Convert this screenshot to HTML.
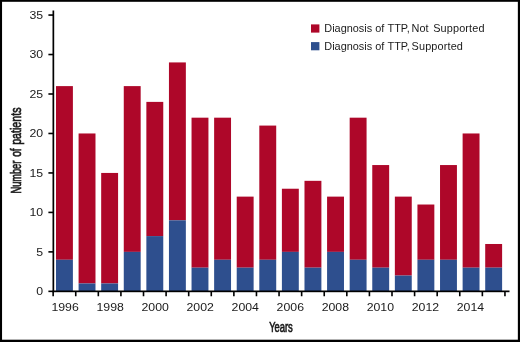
<!DOCTYPE html>
<html><head><meta charset="utf-8"><title>Chart</title>
<style>
html,body{margin:0;padding:0;background:#fff;}
body{width:520px;height:342px;overflow:hidden;}
svg{display:block;}
text{font-family:"Liberation Sans",sans-serif;fill:#1a1a1a;}
.tk{font-size:10.9px;}
.lg{font-size:10.9px;}
.ti{font-size:14.2px;stroke:#1a1a1a;stroke-width:0.7px;}
</style></head><body>
<svg width="520" height="342" viewBox="0 0 520 342">
<rect x="0" y="0" width="520" height="342" fill="#ffffff"/>

<rect x="56.00" y="86.11" width="16.9" height="173.67" fill="#ae0729"/>
<rect x="56.00" y="259.77" width="16.9" height="31.58" fill="#2e4f8e"/>
<rect x="78.59" y="133.47" width="16.9" height="149.99" fill="#ae0729"/>
<rect x="78.59" y="283.46" width="16.9" height="7.89" fill="#2e4f8e"/>
<rect x="101.18" y="172.94" width="16.9" height="110.52" fill="#ae0729"/>
<rect x="101.18" y="283.46" width="16.9" height="7.89" fill="#2e4f8e"/>
<rect x="123.77" y="86.11" width="16.9" height="165.77" fill="#ae0729"/>
<rect x="123.77" y="251.88" width="16.9" height="39.47" fill="#2e4f8e"/>
<rect x="146.36" y="101.89" width="16.9" height="134.20" fill="#ae0729"/>
<rect x="146.36" y="236.09" width="16.9" height="55.26" fill="#2e4f8e"/>
<rect x="168.95" y="62.42" width="16.9" height="157.88" fill="#ae0729"/>
<rect x="168.95" y="220.30" width="16.9" height="71.05" fill="#2e4f8e"/>
<rect x="191.54" y="117.68" width="16.9" height="149.99" fill="#ae0729"/>
<rect x="191.54" y="267.67" width="16.9" height="23.68" fill="#2e4f8e"/>
<rect x="214.13" y="117.68" width="16.9" height="142.09" fill="#ae0729"/>
<rect x="214.13" y="259.77" width="16.9" height="31.58" fill="#2e4f8e"/>
<rect x="236.72" y="196.62" width="16.9" height="71.05" fill="#ae0729"/>
<rect x="236.72" y="267.67" width="16.9" height="23.68" fill="#2e4f8e"/>
<rect x="259.31" y="125.58" width="16.9" height="134.20" fill="#ae0729"/>
<rect x="259.31" y="259.77" width="16.9" height="31.58" fill="#2e4f8e"/>
<rect x="281.90" y="188.73" width="16.9" height="63.15" fill="#ae0729"/>
<rect x="281.90" y="251.88" width="16.9" height="39.47" fill="#2e4f8e"/>
<rect x="304.49" y="180.83" width="16.9" height="86.83" fill="#ae0729"/>
<rect x="304.49" y="267.67" width="16.9" height="23.68" fill="#2e4f8e"/>
<rect x="327.08" y="196.62" width="16.9" height="55.26" fill="#ae0729"/>
<rect x="327.08" y="251.88" width="16.9" height="39.47" fill="#2e4f8e"/>
<rect x="349.67" y="117.68" width="16.9" height="142.09" fill="#ae0729"/>
<rect x="349.67" y="259.77" width="16.9" height="31.58" fill="#2e4f8e"/>
<rect x="372.26" y="165.05" width="16.9" height="102.62" fill="#ae0729"/>
<rect x="372.26" y="267.67" width="16.9" height="23.68" fill="#2e4f8e"/>
<rect x="394.85" y="196.62" width="16.9" height="78.94" fill="#ae0729"/>
<rect x="394.85" y="275.56" width="16.9" height="15.79" fill="#2e4f8e"/>
<rect x="417.44" y="204.52" width="16.9" height="55.26" fill="#ae0729"/>
<rect x="417.44" y="259.77" width="16.9" height="31.58" fill="#2e4f8e"/>
<rect x="440.03" y="165.05" width="16.9" height="94.73" fill="#ae0729"/>
<rect x="440.03" y="259.77" width="16.9" height="31.58" fill="#2e4f8e"/>
<rect x="462.62" y="133.47" width="16.9" height="134.20" fill="#ae0729"/>
<rect x="462.62" y="267.67" width="16.9" height="23.68" fill="#2e4f8e"/>
<rect x="485.21" y="243.99" width="16.9" height="23.68" fill="#ae0729"/>
<rect x="485.21" y="267.67" width="16.9" height="23.68" fill="#2e4f8e"/>
<rect x="52.5" y="10.5" width="1.7" height="281.70" fill="#000"/>
<rect x="52.5" y="290.50" width="457" height="1.7" fill="#000"/>
<rect x="48.4" y="290.55" width="4.7" height="1.6" fill="#000"/>
<text class="tk" transform="translate(43.1,295.25) scale(1.13,1)" text-anchor="end">0</text>
<rect x="48.4" y="251.08" width="4.7" height="1.6" fill="#000"/>
<text class="tk" transform="translate(43.1,255.78) scale(1.13,1)" text-anchor="end">5</text>
<rect x="48.4" y="211.61" width="4.7" height="1.6" fill="#000"/>
<text class="tk" transform="translate(43.1,216.31) scale(1.13,1)" text-anchor="end">10</text>
<rect x="48.4" y="172.14" width="4.7" height="1.6" fill="#000"/>
<text class="tk" transform="translate(43.1,176.84) scale(1.13,1)" text-anchor="end">15</text>
<rect x="48.4" y="132.67" width="4.7" height="1.6" fill="#000"/>
<text class="tk" transform="translate(43.1,137.37) scale(1.13,1)" text-anchor="end">20</text>
<rect x="48.4" y="93.20" width="4.7" height="1.6" fill="#000"/>
<text class="tk" transform="translate(43.1,97.90) scale(1.13,1)" text-anchor="end">25</text>
<rect x="48.4" y="53.73" width="4.7" height="1.6" fill="#000"/>
<text class="tk" transform="translate(43.1,58.43) scale(1.13,1)" text-anchor="end">30</text>
<rect x="48.4" y="14.26" width="4.7" height="1.6" fill="#000"/>
<text class="tk" transform="translate(43.1,18.96) scale(1.13,1)" text-anchor="end">35</text>
<rect x="52.35" y="291.35" width="1.6" height="4.9" fill="#000"/>
<rect x="74.94" y="291.35" width="1.6" height="4.9" fill="#000"/>
<rect x="97.53" y="291.35" width="1.6" height="4.9" fill="#000"/>
<rect x="120.12" y="291.35" width="1.6" height="4.9" fill="#000"/>
<rect x="142.71" y="291.35" width="1.6" height="4.9" fill="#000"/>
<rect x="165.30" y="291.35" width="1.6" height="4.9" fill="#000"/>
<rect x="187.89" y="291.35" width="1.6" height="4.9" fill="#000"/>
<rect x="210.48" y="291.35" width="1.6" height="4.9" fill="#000"/>
<rect x="233.07" y="291.35" width="1.6" height="4.9" fill="#000"/>
<rect x="255.66" y="291.35" width="1.6" height="4.9" fill="#000"/>
<rect x="278.25" y="291.35" width="1.6" height="4.9" fill="#000"/>
<rect x="300.84" y="291.35" width="1.6" height="4.9" fill="#000"/>
<rect x="323.43" y="291.35" width="1.6" height="4.9" fill="#000"/>
<rect x="346.02" y="291.35" width="1.6" height="4.9" fill="#000"/>
<rect x="368.61" y="291.35" width="1.6" height="4.9" fill="#000"/>
<rect x="391.20" y="291.35" width="1.6" height="4.9" fill="#000"/>
<rect x="413.79" y="291.35" width="1.6" height="4.9" fill="#000"/>
<rect x="436.38" y="291.35" width="1.6" height="4.9" fill="#000"/>
<rect x="458.97" y="291.35" width="1.6" height="4.9" fill="#000"/>
<rect x="481.56" y="291.35" width="1.6" height="4.9" fill="#000"/>
<rect x="504.15" y="291.35" width="1.6" height="4.9" fill="#000"/>
<text class="tk" transform="translate(65.10,311.4) scale(1.13,1)" text-anchor="middle">1996</text>
<text class="tk" transform="translate(110.14,311.4) scale(1.13,1)" text-anchor="middle">1998</text>
<text class="tk" transform="translate(155.18,311.4) scale(1.13,1)" text-anchor="middle">2000</text>
<text class="tk" transform="translate(200.22,311.4) scale(1.13,1)" text-anchor="middle">2002</text>
<text class="tk" transform="translate(245.26,311.4) scale(1.13,1)" text-anchor="middle">2004</text>
<text class="tk" transform="translate(290.30,311.4) scale(1.13,1)" text-anchor="middle">2006</text>
<text class="tk" transform="translate(335.34,311.4) scale(1.13,1)" text-anchor="middle">2008</text>
<text class="tk" transform="translate(380.38,311.4) scale(1.13,1)" text-anchor="middle">2010</text>
<text class="tk" transform="translate(425.42,311.4) scale(1.13,1)" text-anchor="middle">2012</text>
<text class="tk" transform="translate(470.46,311.4) scale(1.13,1)" text-anchor="middle">2014</text>
<rect x="311" y="24.4" width="8.4" height="8.2" fill="#ae0729"/>
<rect x="311" y="42.1" width="8.4" height="8.2" fill="#2e4f8e"/>
<text class="lg" y="32.1"><tspan x="324.30">Diagnosis</tspan> <tspan x="375.20">of</tspan> <tspan x="387.50">TTP,</tspan> <tspan x="411.60">Not</tspan> <tspan x="433.20" letter-spacing="0.13">Supported</tspan></text>
<text class="lg" y="50.0"><tspan x="324.30">Diagnosis</tspan> <tspan x="375.20">of</tspan> <tspan x="387.50">TTP,</tspan> <tspan x="411.60" letter-spacing="0.13">Supported</tspan></text>
<text class="ti" transform="translate(21.1,193.5) rotate(-90) scale(0.65,1)">Number</text>
<text class="ti" transform="translate(21.1,156.8) rotate(-90) scale(0.715,1)">of</text>
<text class="ti" transform="translate(21.1,144.8) rotate(-90) scale(0.75,1)">patients</text>
<text class="ti" transform="translate(269.2,331.7) scale(0.66,1)">Years</text>
<rect x="0" y="0" width="520" height="1.8" fill="#000"/>
<rect x="0" y="0" width="2.05" height="342" fill="#000"/>
<rect x="517.85" y="0" width="2.15" height="342" fill="#000"/>
<rect x="0" y="339.7" width="520" height="2.3" fill="#000"/>
</svg></body></html>
